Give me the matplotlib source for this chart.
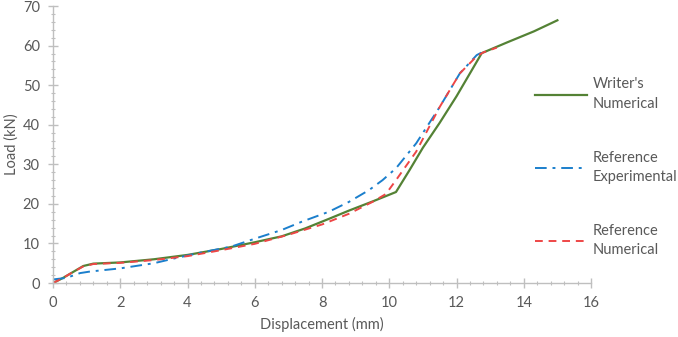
"""
Load-displacement comparison: writer's numerical vs reference results
"""

import matplotlib.pyplot as plt
from matplotlib.ticker import MultipleLocator

# Writer's Numerical
wn_x = [0, 0.3, 0.6, 0.9, 1.2, 2, 3, 4, 5, 6, 6.8, 7.5, 8.2, 8.8, 9.5, 10.2,
        10.6, 11, 11.5, 12, 12.4, 12.75, 13.5, 14.3, 15]
wn_y = [0, 1.3, 2.8, 4.3, 4.9, 5.2, 6.0, 7.1, 8.6, 10.3, 11.8, 13.8, 16.2, 18.3,
        20.6, 23.0, 28.5, 34.2, 40.5, 47.2, 53.0, 58.1, 60.8, 63.6, 66.4]

# Reference Experimental
re_x = [0, 0.4, 0.8, 1.1, 2, 3, 3.6, 4.4, 5.3, 6, 6.8, 7.4, 8.2, 8.8, 9.4,
        9.8, 10.2, 10.8, 11.5, 12.1, 12.6, 12.8]
re_y = [0.9, 1.3, 2.5, 2.9, 3.7, 5.0, 6.2, 7.7, 9.2, 11.2, 13.4, 15.5, 18.0,
        20.5, 23.5, 26.0, 29.0, 35.3, 44.5, 53.0, 57.6, 58.5]

# Reference Numerical
rn_x = [0, 0.3, 0.6, 0.9, 1.2, 2, 3, 4, 5, 6, 7, 8, 8.8, 9.5, 9.9, 10.2,
        10.8, 11.5, 12.1, 12.6, 12.8, 13.2]
rn_y = [0, 1.3, 2.8, 4.2, 4.8, 5.1, 5.8, 6.8, 8.3, 9.9, 12.2, 14.8, 17.5,
        20.5, 22.5, 26.0, 33.2, 44.5, 53.0, 57.3, 58.3, 59.5]

plt.rcParams["font.family"] = ["Lato", "DejaVu Sans"]
text_c = "#595959"
axis_c = "#BFBFBF"

fig = plt.figure(figsize=(6.78, 3.37), dpi=100)
ax = fig.add_axes([0.0782, 0.1602, 0.7935, 0.8218])

ax.plot(wn_x, wn_y, color="#548235", lw=1.6, label="Writer's\nNumerical")
ax.plot(re_x, re_y, color="#1B7FCC", lw=1.4, dashes=(6, 3, 1.5, 3),
        label="Reference\nExperimental")
ax.plot(rn_x, rn_y, color="#EE4646", lw=1.4, dashes=(4, 3),
        label="Reference\nNumerical")

ax.set_xlim(0, 16)
ax.set_ylim(0, 70)
ax.xaxis.set_major_locator(MultipleLocator(2))
ax.xaxis.set_minor_locator(MultipleLocator(0.4))
ax.yaxis.set_major_locator(MultipleLocator(10))
ax.yaxis.set_minor_locator(MultipleLocator(2))

for s in ["top", "right"]:
    ax.spines[s].set_visible(False)
for s in ["left", "bottom"]:
    ax.spines[s].set_color(axis_c)
    ax.spines[s].set_linewidth(1.0)

ax.tick_params(which="major", direction="inout", length=7, width=1,
               color=axis_c, labelcolor=text_c, labelsize=10.5, pad=6)
ax.tick_params(which="minor", direction="inout", length=3.5, width=0.8,
               color=axis_c)

ax.set_xlabel("Displacement (mm)", color=text_c, fontsize=10.5, labelpad=5)
ax.set_ylabel("Load (kN)", color=text_c, fontsize=10.5, labelpad=3)

leg = fig.legend(loc="upper left", bbox_to_anchor=(0.778, 0.792), frameon=False,
                 fontsize=10.5, handlelength=3.55, handletextpad=0.4,
                 labelspacing=2.72, borderpad=0)
for t in leg.get_texts():
    t.set_color(text_c)
    t.set_linespacing(1.5)

fig.savefig("out.png", dpi=100)
